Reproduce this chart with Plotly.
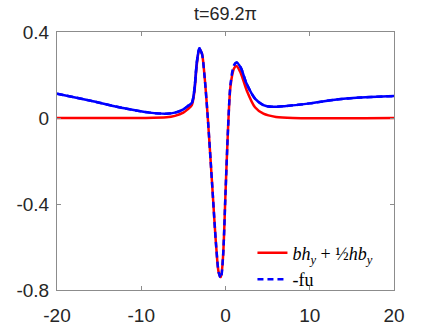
import plotly.graph_objects as go

# x positions and values for the red curve (b h_y + 1/2 h b_y)
x_red = [-20, -10, -7, -6, -5, -4.5, -4, -3.7, -3.4, -3.1, -2.8, -2.5, -2.1, -1.6, -1.1,
         -0.8, -0.55, -0.3, 0.0, 0.3, 0.6, 1.0, 1.3, 1.8, 2.5, 3.5, 4.5, 6, 8, 20]
y_red = [0, 0, 0.003, 0.01, 0.025, 0.04, 0.06, 0.12, 0.25, 0.32, 0.30, 0.20, 0.0, -0.30, -0.60,
         -0.72, -0.74, -0.65, -0.35, -0.05, 0.15, 0.23, 0.242, 0.21, 0.13, 0.05, 0.02, 0.005, 0, 0]

# x positions and values for the blue dashed curve (-fu)
x_blue = [-20, -16, -12, -9, -7, -6, -5, -4.5, -4, -3.7, -3.4, -3.1, -2.8, -2.5, -2.1, -1.6, -1.1,
          -0.8, -0.55, -0.3, 0.0, 0.3, 0.6, 1.0, 1.3, 1.8, 2.5, 3.5, 4.5, 5.5, 7, 10, 13, 16, 20]
y_blue = [0.113, 0.08, 0.045, 0.025, 0.02, 0.025, 0.04, 0.055, 0.07, 0.13, 0.26, 0.325, 0.30, 0.20,
          0.0, -0.30, -0.60, -0.72, -0.745, -0.65, -0.35, -0.05, 0.16, 0.245, 0.258, 0.235, 0.16,
          0.09, 0.06, 0.052, 0.055, 0.068, 0.085, 0.095, 0.102]

x_ticks = [-20, -10, 0, 10, 20]
x_labels = ["-20", "-10", "0", "10", "20"]
y_ticks = [0.4, 0, -0.4, -0.8]
y_labels = ["0.4", "0", "-0.4", "-0.8"]

# where the dashed curve is nearly flat, dense MATLAB dashes render as a solid stroke
flat_y = [y if (x <= -2.8 or x >= 1.0) else None for x, y in zip(x_blue, y_blue)]

fig = go.Figure()
fig.add_trace(go.Scatter(x=x_red, y=y_red, mode="lines",
                         line=dict(color="#ff0000", width=2.5, shape="spline", smoothing=0.8),
                         name="<i>bh<sub>y</sub></i> + ½<i>hb<sub>y</sub></i>"))
fig.add_trace(go.Scatter(x=x_blue, y=y_blue, mode="lines",
                         line=dict(color="#0000ff", width=2.5, dash="6px,4px", shape="spline", smoothing=0.8),
                         name="-fu"))
fig.add_trace(go.Scatter(x=x_blue, y=flat_y, mode="lines", connectgaps=False, showlegend=False,
                         line=dict(color="#0000ff", width=2.5, shape="spline", smoothing=0.8),
                         hoverinfo="skip"))

axis_common = dict(showline=True, linecolor="#8c8c8c", linewidth=1, mirror="ticks", ticks="inside",
                   ticklen=4, tickcolor="#8c8c8c", showgrid=False, zeroline=False, automargin=False,
                   tickfont=dict(family="Liberation Sans, Arial", size=19, color="#262626"))
fig.update_xaxes(range=[-20, 20], tickvals=x_ticks, ticktext=x_labels, ticklabelstandoff=8, **axis_common)
fig.update_yaxes(range=[-0.8, 0.4], tickvals=y_ticks, ticktext=y_labels, ticklabelstandoff=3, **axis_common)

fig.update_layout(
    width=436, height=327,
    margin=dict(l=57, r=42, t=32, b=37),
    paper_bgcolor="white", plot_bgcolor="white",
    title=dict(text="t=69.2π", x=(57 + 394) / 2 / 436, xanchor="center", y=1 - 14 / 327, yanchor="middle",
               font=dict(family="Liberation Sans, Arial", size=18, color="#262626")),
    legend=dict(x=0.58, y=0.215, xanchor="left", yanchor="top", bgcolor="rgba(255,255,255,0)",
                font=dict(family="Liberation Serif, DejaVu Serif", size=18, color="black"),
                itemwidth=30, tracegroupgap=0),
    showlegend=True,
)

fig.write_html("out.html", config={"displayModeBar": False},
               post_script="document.body.style.margin='0';")
